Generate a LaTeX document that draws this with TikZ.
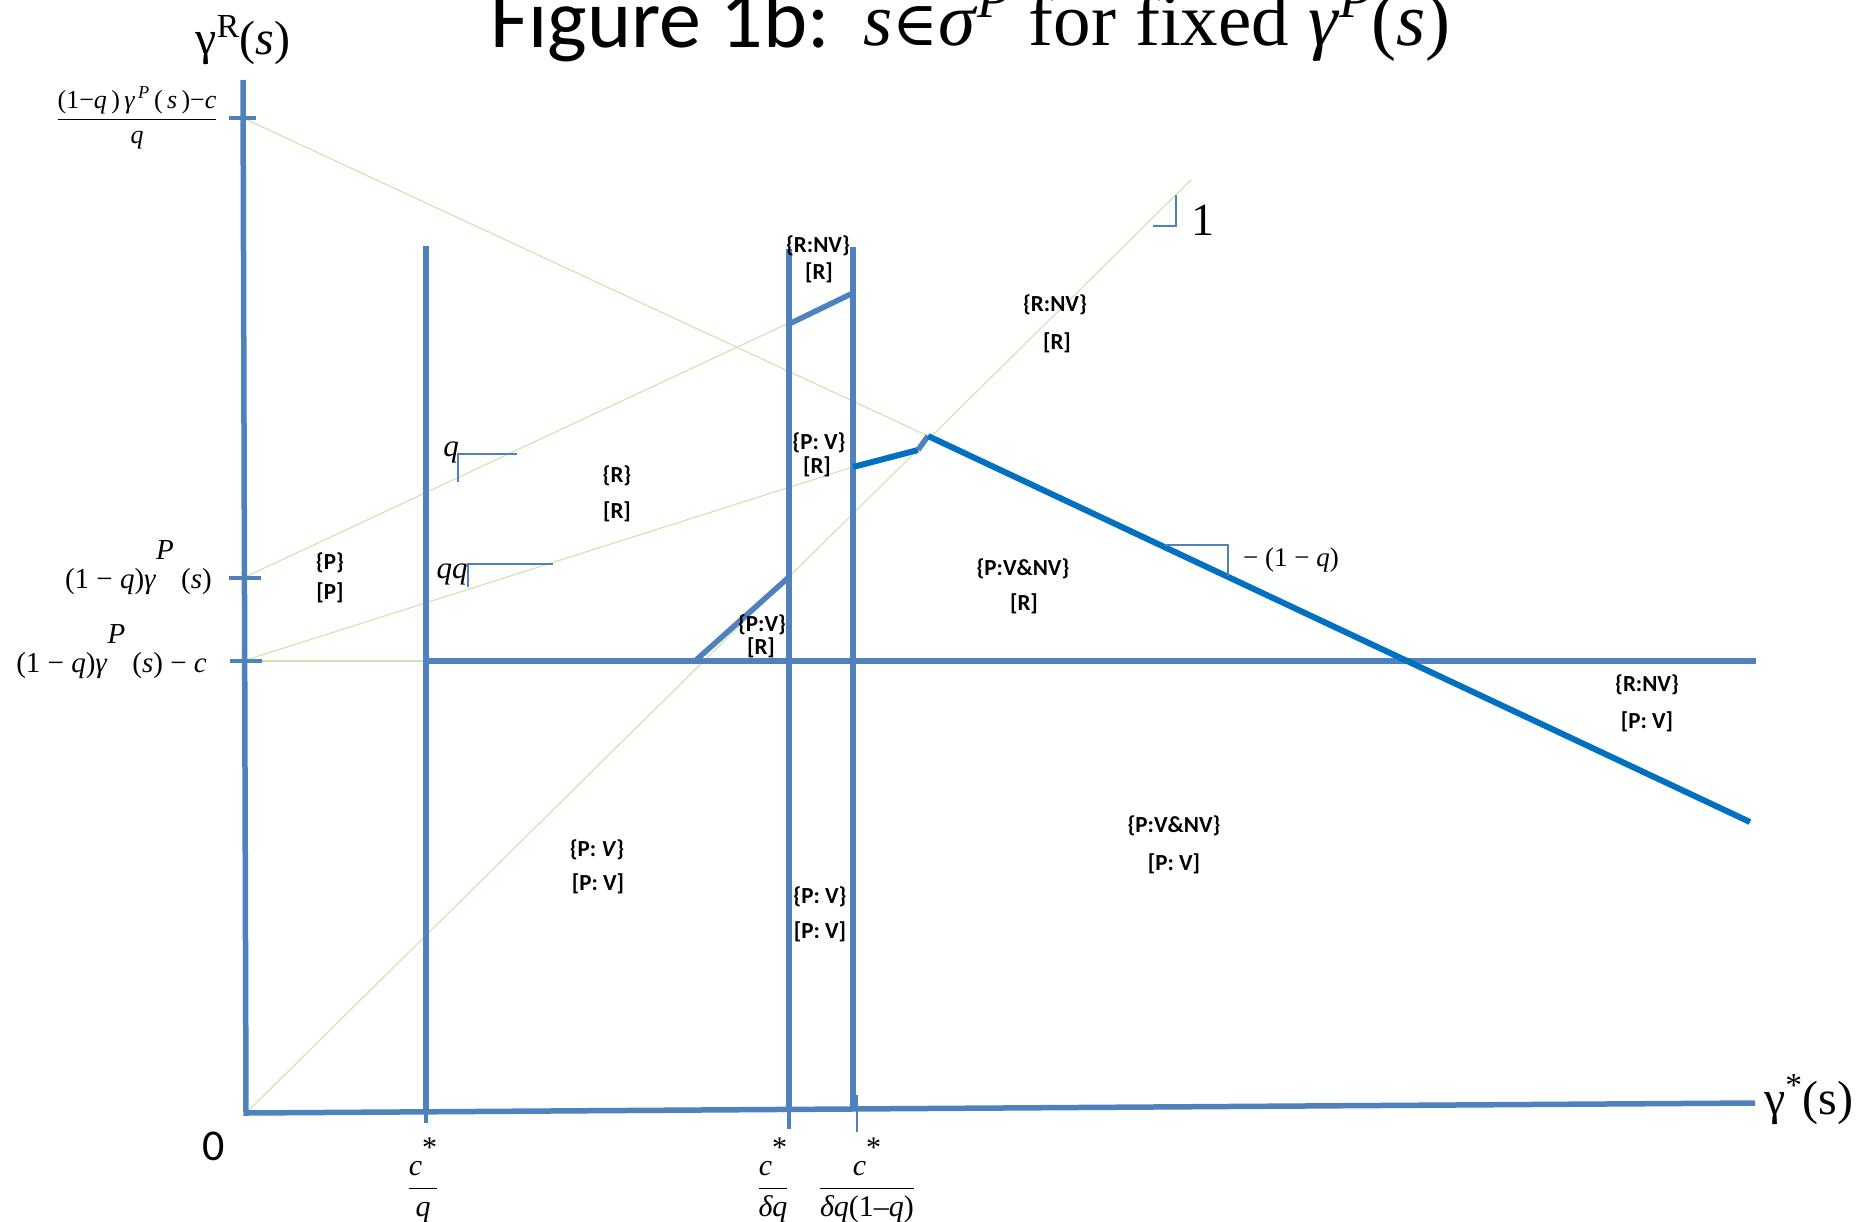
\documentclass[tikz,border=0pt]{standalone}
\usepackage{fix-cm}
\usepackage{fontspec}
\usepackage{amsmath}
\setmainfont{Liberation Serif}
\newfontfamily\carlito{Carlito}
\newfontfamily\djserif{DejaVu Serif}
\definecolor{axisblue}{RGB}{79,129,189}
\definecolor{darkblue}{RGB}{0,112,192}
\definecolor{guidegreen}{RGB}{204,228,172}
\begin{document}
\begin{tikzpicture}[x=1pt,y=-1pt,
  axisline/.style={draw=axisblue,line width=5.5pt},
  thickblue/.style={draw=darkblue,line width=6pt},
  guide/.style={draw=guidegreen,line width=1.1pt},
  slopeind/.style={draw=axisblue,line width=2.6pt},
  tickmark/.style={draw=axisblue,line width=3.4pt},
  region/.style={font=\carlito\bfseries\fontsize{23}{26}\selectfont,inner sep=0pt},
  lbl/.style={inner sep=0pt}]
\path[use as bounding box] (0,0) rectangle (1862,1221);

% key points
\coordinate (ytop) at (243,80);
\coordinate (orig) at (246,1113);
\coordinate (xend) at (1755,1103);
\coordinate (l1t) at (426,246); \coordinate (l1b) at (426,1112); \coordinate (l1k) at (426,1123);
\coordinate (l2t) at (789,249); \coordinate (l2b) at (789,1109); \coordinate (l2k) at (789,1129);
\coordinate (l3t) at (853,247); \coordinate (l3b) at (853,1108);
\coordinate (k3a) at (857,1095); \coordinate (k3b) at (857,1132);
\coordinate (ya) at (243,118); \coordinate (yb) at (243,578); \coordinate (yc) at (243,661);
\coordinate (ta1) at (229,118); \coordinate (ta2) at (256,118);
\coordinate (tb1) at (229,578); \coordinate (tb2) at (261,578);
\coordinate (tc1) at (230,661); \coordinate (tc2) at (262,661);
\coordinate (hL) at (426,661); \coordinate (hR) at (1756,661);
\coordinate (d1) at (695,661); \coordinate (d2) at (789,577);
\coordinate (a1) at (789,324); \coordinate (a2) at (853,293);
\coordinate (b1) at (853,467); \coordinate (b2) at (918,450); \coordinate (b3) at (928,436);
\coordinate (bigend) at (1750,822);
\coordinate (g4end) at (1191,180);
\coordinate (s1) at (1165,545); \coordinate (s2) at (1228,545); \coordinate (s3) at (1228,576);
\coordinate (o1) at (1153,226); \coordinate (o2) at (1176,226); \coordinate (o3) at (1176,195);
\coordinate (q1) at (517,454); \coordinate (q0) at (458,454); \coordinate (q2) at (458,482);
\coordinate (qq1) at (553,564); \coordinate (qq0) at (468,564); \coordinate (qq2) at (468,587);

% guide lines
\draw[guide] (ya) -- (b3);
\draw[guide] (yb) -- (a2);
\draw[guide] (yc) -- (b1);
\draw[guide] (yc) -- (hL);
\draw[guide] (orig) -- (g4end);

% axes
\draw[axisline] (ytop) -- (orig) -- (xend);
\draw[tickmark] (ta1) -- (ta2);
\draw[tickmark] (tb1) -- (tb2);
\draw[tickmark] (tc1) -- (tc2);

% vertical lines
\draw[axisline] (l1t) -- (l1b);
\draw[tickmark] (l1b) -- (l1k);
\draw[axisline] (l2t) -- (l2b);
\draw[tickmark] (l2b) -- (l2k);
\draw[axisline] (l3t) -- (l3b);
\draw[tickmark,line width=2.6pt] (k3a) -- (k3b);

% horizontal and segments
\draw[axisline] (hL) -- (hR);
\draw[axisline] (d1) -- (d2);
\draw[axisline] (a1) -- (a2);
\draw[thickblue] (b1) -- (b2);
\draw[axisline] (b2) -- (b3);
\draw[thickblue] (b3) -- (bigend);

% slope indicators
\draw[slopeind] (s1) -- (s2) -- (s3);
\draw[slopeind] (o1) -- (o2) -- (o3);
\draw[slopeind] (q1) -- (q0) -- (q2);
\draw[slopeind] (qq1) -- (qq0) -- (qq2);

% title
\node[lbl,anchor=base west] (title1) at (490,47) {\carlito\fontsize{84}{90}\selectfont Figure 1b:};
\node[lbl,anchor=base west] (title2) at (863,45) {\fontsize{75}{90}\selectfont \textit{s}{\djserif\fontsize{62}{70}\selectfont ∈}\textit{σ}\textsuperscript{\textit{P}} for fixed \textit{γ}\textsuperscript{\textit{P}}(\textit{s})};

% axis labels
\node[lbl] (ylab) at (243,40) {\fontsize{48}{52}\selectfont γ\textsuperscript{R}(\textit{s})};
\node[lbl,anchor=base west] (xlab) at (1764,1114) {\fontsize{48}{52}\selectfont γ\textsuperscript{*}(s)};
\node[lbl] (zero) at (214,1146) {\carlito\fontsize{44}{48}\selectfont 0};

% y tick labels
\node[lbl] (yfrac) at (137,118) {\fontsize{26}{30}\selectfont $\dfrac{\text{(1−\textit{q}\,)\,\textit{γ}\textsuperscript{\,\textit{P}}\,(\,\textit{s}\,)−\textit{c}}}{\text{\textit{q}}}$};
\node[lbl,anchor=base east] (ylab1) at (212,588) {\fontsize{29}{32}\selectfont (1 − \textit{q})\textit{γ}\raisebox{1.0em}{\textit{P}}\hspace{0.25em}(\textit{s})};
\node[lbl,anchor=base east] (ylab2) at (207,672) {\fontsize{29}{32}\selectfont (1 − \textit{q})\textit{γ}\raisebox{1.0em}{\textit{P}}\hspace{0.25em}(\textit{s}) − \textit{c}};

% x tick labels
\node[lbl] (xl1) at (423,1180) {\fontsize{30}{34}\selectfont $\dfrac{\text{\textit{c}\raisebox{0.6em}{*}}}{\text{\textit{q}}}$};
\node[lbl] (xl2) at (773,1180) {\fontsize{30}{34}\selectfont $\dfrac{\text{\textit{c}\raisebox{0.6em}{*}}}{\text{\textit{δq}}}$};
\node[lbl] (xl3) at (867,1180) {\fontsize{30}{34}\selectfont $\dfrac{\text{\textit{c}\raisebox{0.6em}{*}}}{\text{\textit{δq}(1–\textit{q})}}$};

% slope labels
\node[lbl] (qlab) at (451,452) {\fontsize{31}{34}\selectfont\textit{q}};
\node[lbl] (qqlab) at (452,574) {\fontsize{31}{34}\selectfont\textit{qq}};
\node[lbl] (onelab) at (1203,220) {\fontsize{46}{50}\selectfont 1};
\node[lbl,anchor=west] (slab) at (1243,560) {\fontsize{27}{30}\selectfont − (1 − \textit{q})};

% region labels
\node[region] (r1a) at (818,246) {\{R:NV\}};
\node[region] (r1b) at (819,273) {[R]};
\node[region] (r2a) at (1055,305) {\{R:NV\}};
\node[region] (r2b) at (1057,343) {[R]};
\node[region] (r3a) at (819,443) {\{P: V\}};
\node[region] (r3b) at (817,467) {[R]};
\node[region] (r4a) at (617,476) {\{R\}};
\node[region] (r4b) at (617,512) {[R]};
\node[region] (r5a) at (330,563) {\{P\}};
\node[region] (r5b) at (330,593) {[P]};
\node[region] (r6a) at (762,625) {\{P:V\}};
\node[region] (r6b) at (761,648) {[R]};
\node[region] (r7a) at (1023,569) {\{P:V\&NV\}};
\node[region] (r7b) at (1024,604) {[R]};
\node[region] (r8a) at (1647,685) {\{R:NV\}};
\node[region] (r8b) at (1647,722) {[P: V]};
\node[region] (r9a) at (597,850) {\{P: \textit{V}\}};
\node[region] (r9b) at (598,884) {[P: V]};
\node[region] (r10a) at (820,897) {\{P: V\}};
\node[region] (r10b) at (820,932) {[P: V]};
\node[region] (r11a) at (1174,826) {\{P:V\&NV\}};
\node[region] (r11b) at (1174,864) {[P: V]};
\end{tikzpicture}
\end{document}
